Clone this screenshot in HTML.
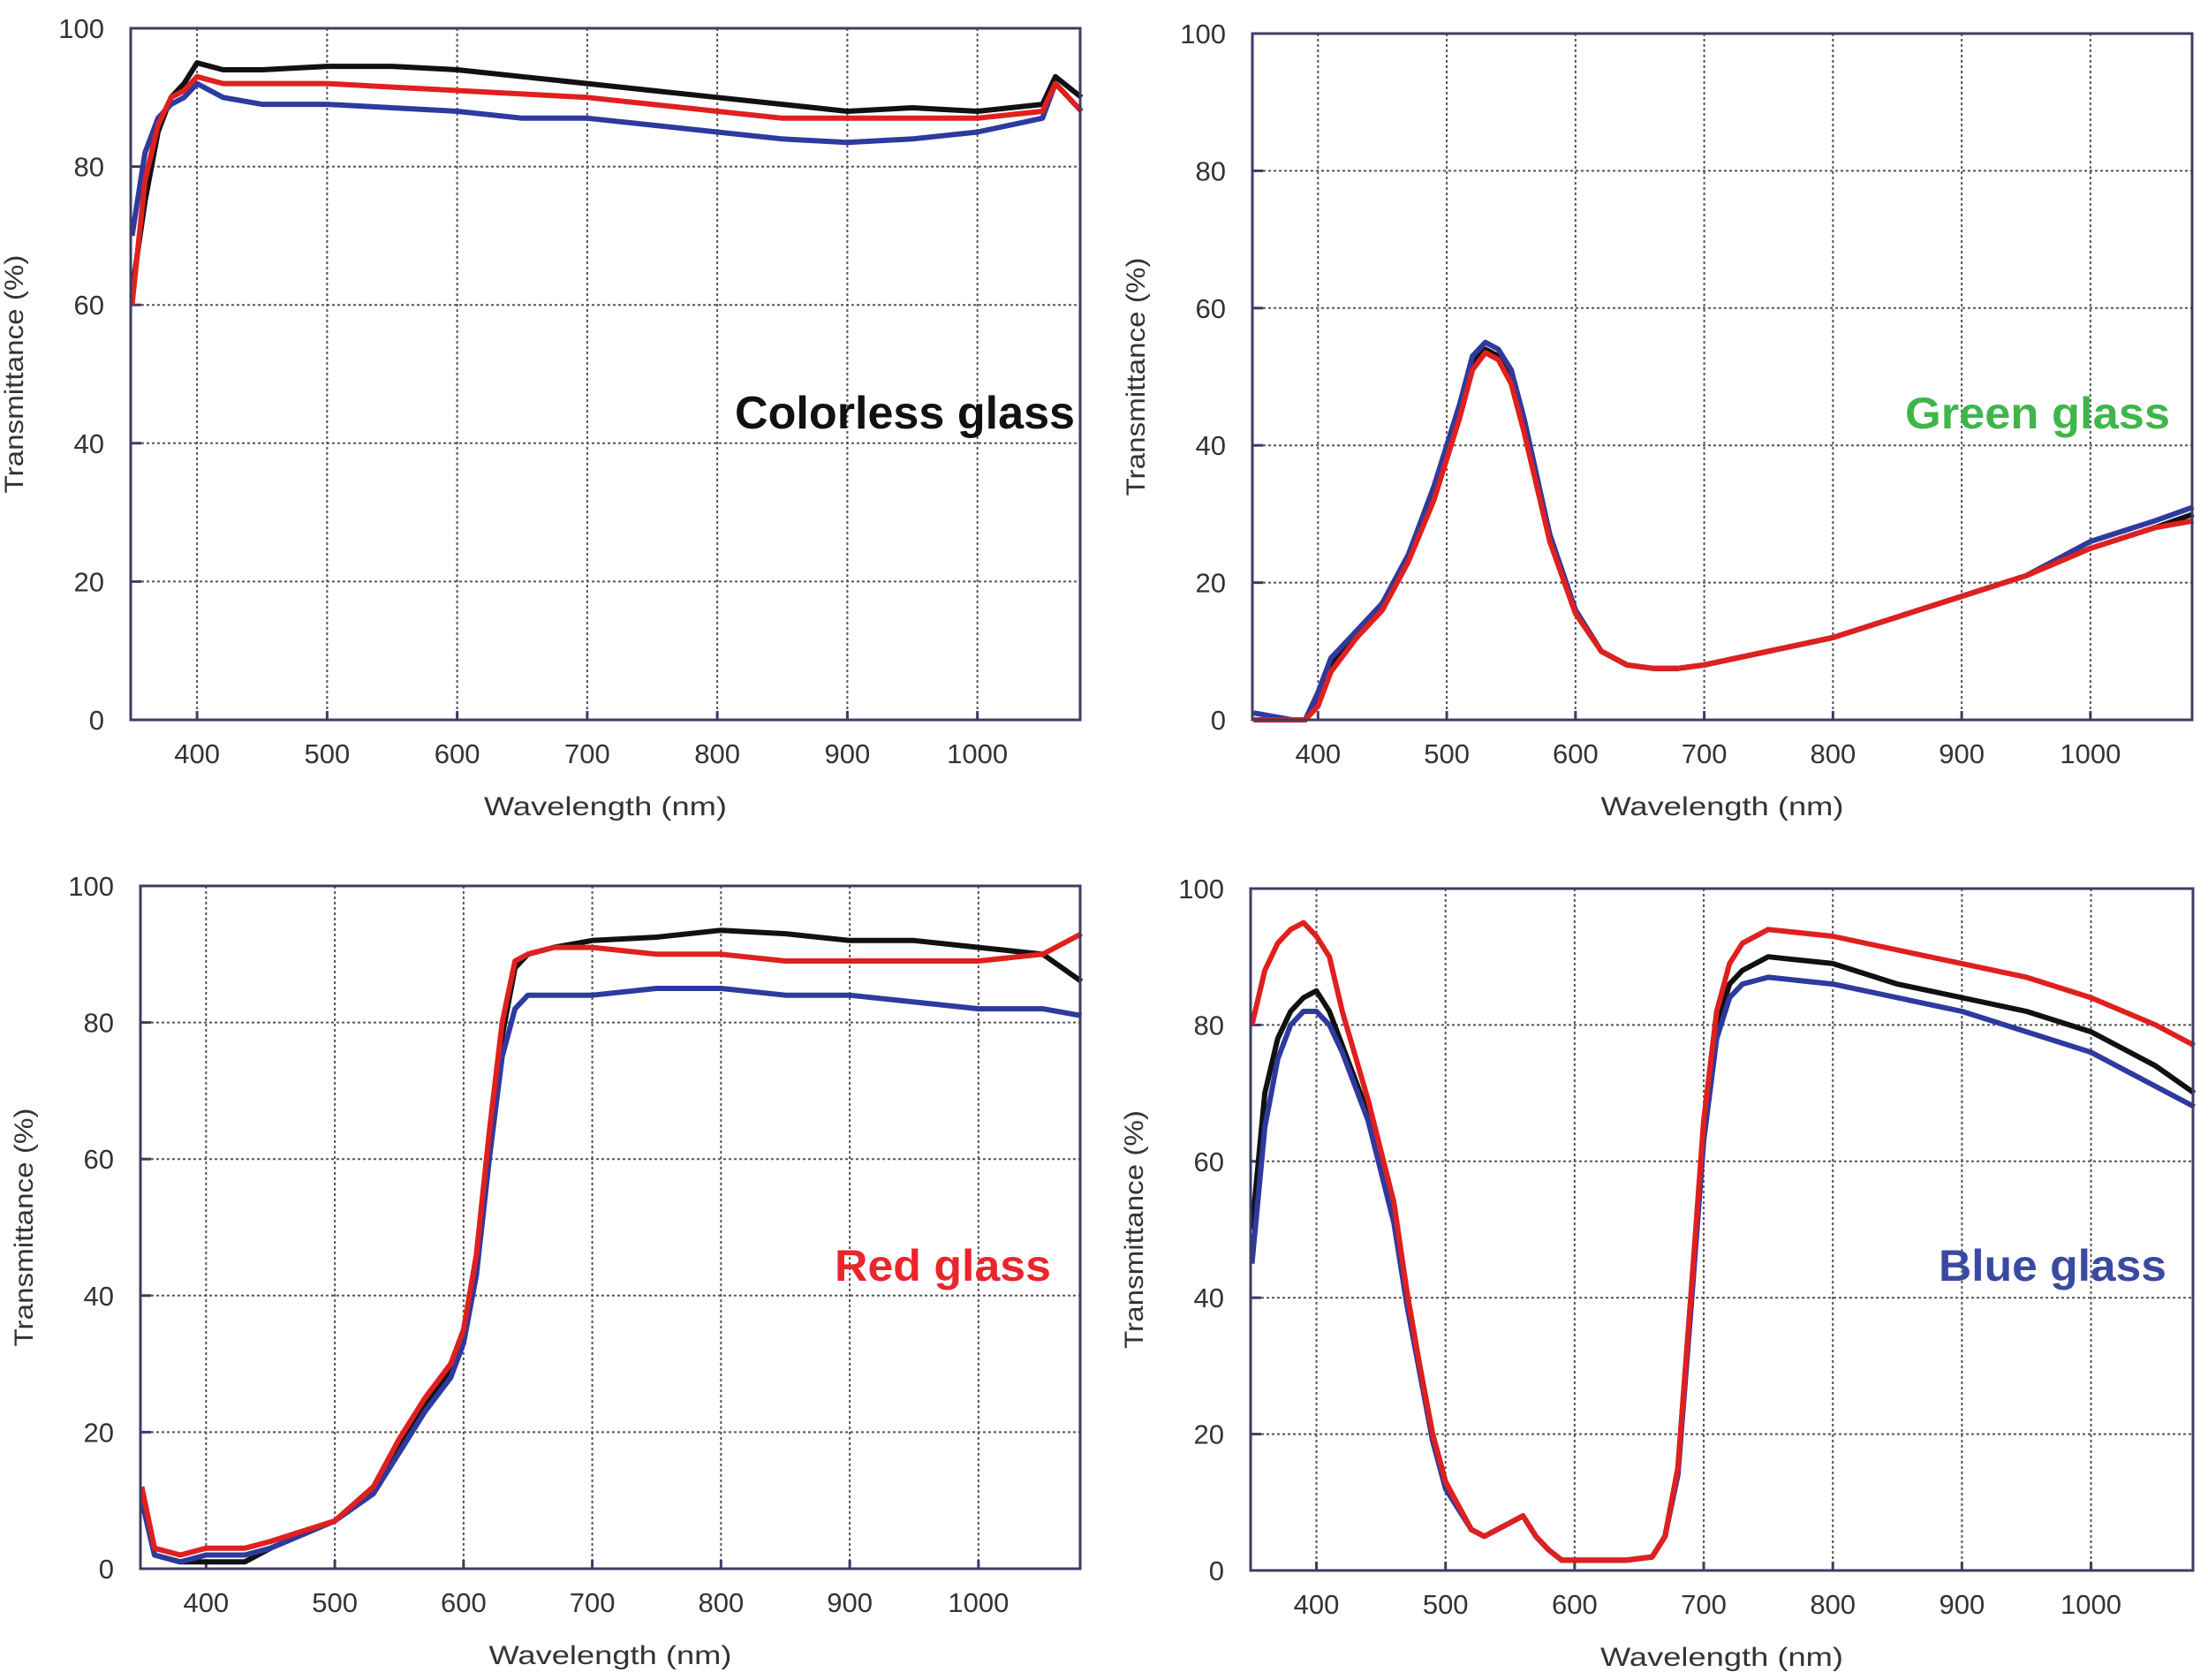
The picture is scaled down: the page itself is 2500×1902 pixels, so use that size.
<!DOCTYPE html>
<html><head><meta charset="utf-8">
<style>
html,body{margin:0;padding:0;background:#fff;}
svg{display:block;}
text{font-family:"Liberation Sans",sans-serif;}
</style></head>
<body>
<svg id="fig" width="2500" height="1902" viewBox="0 0 2500 1902" xmlns="http://www.w3.org/2000/svg"></svg>
<script>
// ---- data ----
const xTicks = [400,500,600,700,800,900,1000];
const yTicks = [0,20,40,60,80,100];

const wlColorless = [350,360,370,380,390,400,420,450,500,550,600,650,700,750,800,850,900,950,1000,1050,1060,1080];
const colorlessBlack = [62,75,85,90,92,95,94,94,94.5,94.5,94,93,92,91,90,89,88,88.5,88,89,93,90];
const colorlessBlue  = [70,82,87,89,90,92,90,89,89,88.5,88,87,87,86,85,84,83.5,84,85,87,92,88];
const colorlessRed   = [60,78,86,90,91,93,92,92,92,91.5,91,90.5,90,89,88,87,87,87,87,88,92,88];

const wlGreen = [350,380,390,400,410,430,450,470,490,510,520,530,540,550,560,580,600,620,640,660,680,700,750,800,850,900,950,1000,1050,1080];
const greenBlack = [0,0,0,3,8,12,17,24,33,45,52,54,53,50,43,27,16,10,8,7.5,7.5,8,10,12,15,18,21,25,28,30];
const greenBlue  = [1,0,0,4,9,13,17,24,34,46,53,55,54,51,44,27,16,10,8,7.5,7.5,8,10,12,15,18,21,26,29,31];
const greenRed   = [0,0,0,2,7,12,16,23,32,44,51,53.5,52.5,49,42,26,15.5,10,8,7.5,7.5,8,10,12,15,18,21,25,28,29];

const wlRed = [350,360,380,400,430,450,500,530,550,570,590,600,610,620,630,640,650,670,700,750,800,850,900,950,1000,1050,1080];
const redBlack = [10,2,1,1,1,3,7,12,18,24,29,34,45,62,78,88,90,91,92,92.5,93.5,93,92,92,91,90,86];
const redBlue  = [10,2,1,2,2,3,7,11,17,23,28,33,43,60,75,82,84,84,84,85,85,84,84,83,82,82,81];
const redRed   = [12,3,2,3,3,4,7,12,19,25,30,35,46,64,80,89,90,91,91,90,90,89,89,89,89,90,93];

const wlBlue = [350,360,370,380,390,400,410,420,440,460,470,480,490,500,520,530,540,550,560,570,580,590,600,620,640,660,670,680,690,700,710,720,730,750,800,850,900,950,1000,1050,1080];
const blueBlack = [50,70,78,82,84,85,82,77,67,52,40,30,20,13,6,5,6,7,8,5,3,1.5,1.5,1.5,1.5,2,5,15,40,65,80,86,88,90,89,86,84,82,79,74,70];
const blueBlue  = [45,65,75,80,82,82,80,76,66,51,39,29,19,12,6,5,6,7,8,5,3,1.5,1.5,1.5,1.5,2,5,14,38,63,78,84,86,87,86,84,82,79,76,71,68];
const blueRed   = [80,88,92,94,95,93,90,82,69,54,41,30,20,13,6,5,6,7,8,5,3,1.5,1.5,1.5,1.5,2,5,15,40,66,82,89,92,94,93,91,89,87,84,80,77];

const NS = "http://www.w3.org/2000/svg";
const fig = document.getElementById('fig');
function mk(tag, attrs, parent){
  const e = document.createElementNS(NS, tag);
  for (const k in attrs) e.setAttribute(k, attrs[k]);
  (parent||fig).appendChild(e);
  return e;
}

const panels = [
  {key:'colorless', L:148,R:1223,T:32,B:815, wl:wlColorless, s:[colorlessBlack,colorlessBlue,colorlessRed],
   title:'Colorless  glass', tc:'#111', tx:1217, ty:485, tw:385, tf:52},
  {key:'green', L:1418,R:2482,T:38,B:815, wl:wlGreen, s:[greenBlack,greenBlue,greenRed],
   title:'Green glass', tc:'#3fb54a', tx:2457, ty:485, tw:300, tf:50},
  {key:'red', L:159,R:1223,T:1003,B:1776, wl:wlRed, s:[redBlack,redBlue,redRed],
   title:'Red glass', tc:'#e8262b', tx:1190, ty:1450, tw:245, tf:50},
  {key:'blue', L:1416,R:2483,T:1006,B:1778, wl:wlBlue, s:[blueBlack,blueBlue,blueRed],
   title:'Blue glass', tc:'#3a4aa0', tx:2453, ty:1450, tw:258, tf:50}
];
const colors = ['#111','#2e3a9e','#e0201e'];
const seriesNames = ['black-series','blue-series','red-series'];
const XMIN=349, XMAX=1079;

panels.forEach(p=>{
  const g = mk('g',{});
  
  
  const xs = v => p.L + (v-XMIN)/(XMAX-XMIN)*(p.R-p.L);
  const ys = v => p.B - v/100*(p.B-p.T);
  xTicks.forEach(t=>{
    const l = mk('line',{x1:xs(t),x2:xs(t),y1:p.T,y2:p.B,stroke:'#555',
      'stroke-width':2,'stroke-dasharray':'3 3'},g);
    
    
    const tk = mk('line',{x1:xs(t),x2:xs(t),y1:p.B-10,y2:p.B,stroke:'#3c3c66','stroke-width':3},g);
    
    
    const tl = mk('text',{x:xs(t),y:p.B+49,'font-size':31,'text-anchor':'middle',fill:'#333'},g);
    tl.textContent = t;
    
    
  });
  yTicks.forEach(t=>{
    if (t>0 && t<100){
      const l = mk('line',{x1:p.L,x2:p.R,y1:ys(t),y2:ys(t),stroke:'#555',
        'stroke-width':2,'stroke-dasharray':'3 3'},g);
      
      
      const tk = mk('line',{x1:p.L,x2:p.L+12,y1:ys(t),y2:ys(t),stroke:'#3c3c66','stroke-width':3},g);
      
      
    }
    const tl = mk('text',{x:p.L-30,y:ys(t)+11,'font-size':31,'text-anchor':'end',fill:'#333'},g);
    tl.textContent = t;
    
    
  });
  p.s.forEach((arr,i)=>{
    const d = arr.map((v,j)=>(j?'L':'M')+xs(p.wl[j]).toFixed(1)+' '+ys(v).toFixed(1)).join(' ');
    const path = mk('path',{d:d,fill:'none',stroke:colors[i],'stroke-width':6,'stroke-linejoin':'round'},g);
    
    
  });
  const fr = mk('rect',{x:p.L,y:p.T,width:p.R-p.L,height:p.B-p.T,fill:'none',stroke:'#3c3c66','stroke-width':3},g);
  
  
  const xt = mk('text',{x:(p.L+p.R)/2,y:p.B+108,'font-size':30,'text-anchor':'middle',fill:'#333',
    textLength:275,lengthAdjust:'spacingAndGlyphs'},g);
  xt.textContent = 'Wavelength (nm)';
  
  
  const cy = (p.T+p.B)/2;
  const cx = p.L-122;
  const yt = mk('text',{x:cx,y:cy,'font-size':30,'text-anchor':'middle',fill:'#333',
    transform:'rotate(-90 '+cx+' '+cy+')',textLength:270,lengthAdjust:'spacingAndGlyphs'},g);
  yt.textContent = 'Transmittance (%)';
  
  
  const tt = mk('text',{x:p.tx,y:p.ty,'font-size':p.tf,'font-weight':'bold','text-anchor':'end',fill:p.tc,
    textLength:p.tw,lengthAdjust:'spacingAndGlyphs'},g);
  tt.textContent = p.title;
  
  
});
</script>
</body></html>
